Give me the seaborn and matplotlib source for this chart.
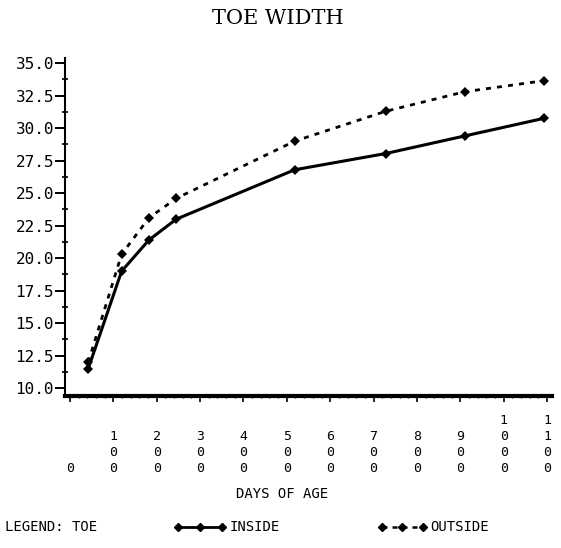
import numpy as np
import pandas as pd
import seaborn as sns
import matplotlib
matplotlib.use("Agg")
import matplotlib.pyplot as plt
from matplotlib.lines import Line2D
from matplotlib.ticker import MultipleLocator, FixedLocator

# ---- data ----
days = [42, 119, 182, 245, 518, 728, 910, 1092]
inside = [11.5, 19.0, 21.4, 23.0, 26.8, 28.05, 29.4, 30.75]
outside = [12.0, 20.3, 23.1, 24.6, 29.0, 31.3, 32.8, 33.65]
x_ticks = [0, 100, 200, 300, 400, 500, 600, 700, 800, 900, 1000, 1100]
y_ticks = [10.0, 12.5, 15.0, 17.5, 20.0, 22.5, 25.0, 27.5, 30.0, 32.5, 35.0]
title = "TOE WIDTH"
x_label = "DAYS OF AGE"

sns.set_style("ticks")
plt.rcParams["font.family"] = ["DejaVu Sans Mono", "DejaVu Sans"]
plt.rcParams["text.color"] = "black"
plt.rcParams["axes.labelcolor"] = "black"
plt.rcParams["xtick.color"] = "black"
plt.rcParams["ytick.color"] = "black"

fig = plt.figure(figsize=(5.61, 5.48), dpi=100)
ax = fig.add_axes([0.1159, 0.2774, 0.8734 - 0.005, 0.6168])

df_in = pd.DataFrame({"days": days, "width": inside})
df_out = pd.DataFrame({"days": days, "width": outside})

sns.lineplot(data=df_in, x="days", y="width", ax=ax, color="black",
             linewidth=2.2, marker="D", markersize=5, markeredgewidth=0)
sns.lineplot(data=df_out, x="days", y="width", ax=ax, color="black",
             linewidth=2.0, linestyle=(0, (1.8, 2.2)), marker="D",
             markersize=5, markeredgewidth=0)

ax.set_xlim(-11.5, 1112)
ax.set_ylim(9.4, 35.4)

sns.despine(ax=ax)
ax.spines["left"].set_linewidth(1.5)
ax.spines["bottom"].set_linewidth(3.0)
ax.spines["left"].set_color("black")
ax.spines["bottom"].set_color("black")

# y ticks
ax.yaxis.set_major_locator(FixedLocator(y_ticks))
ax.yaxis.set_minor_locator(MultipleLocator(1.25))
ax.set_yticklabels([f"{v:.1f}" for v in y_ticks])
ax.tick_params(axis="y", which="major", direction="out", length=7, width=1.4,
               pad=1, labelsize=11.5, colors="black")
ax.tick_params(axis="y", which="minor", direction="inout", length=5, width=1.2,
               colors="black")

# x ticks: stacked digits, bottom aligned
ax.xaxis.set_major_locator(FixedLocator(x_ticks))
ax.xaxis.set_minor_locator(MultipleLocator(20))
ax.set_xticklabels(["\n".join(str(v)) for v in x_ticks])
ax.tick_params(axis="x", which="major", direction="out", length=4, width=1.2,
               pad=53, labelsize=9.5, colors="black")
ax.tick_params(axis="x", which="minor", direction="out", length=1.5, width=1.0,
               colors="black")
for lab in ax.get_xticklabels():
    lab.set_verticalalignment("bottom")
    lab.set_multialignment("center")
    lab.set_linespacing(1.3)

ax.set_xlabel("")
ax.set_ylabel("")

fig.text(0.495, 0.967, title, ha="center", va="center", fontsize=15,
         family="DejaVu Serif", color="black")
fig.text(0.503, 0.098, x_label, ha="center", va="center", fontsize=10)

# legend row
ly = 0.038
fig.text(0.009, ly, "LEGEND: TOE", ha="left", va="center", fontsize=10)
fig.add_artist(Line2D([178 / 561, 222 / 561], [ly, ly], color="black",
                      linewidth=2.0, transform=fig.transFigure))
fig.add_artist(Line2D([178 / 561, 200 / 561, 222 / 561], [ly, ly, ly],
                      color="black", linestyle="none", marker="D",
                      markersize=4, transform=fig.transFigure))
fig.text(230 / 561, ly, "INSIDE", ha="left", va="center", fontsize=10)
fig.add_artist(Line2D([382 / 561, 423 / 561], [ly, ly], color="black",
                      linewidth=1.8, linestyle=(0, (2, 2)),
                      transform=fig.transFigure))
fig.add_artist(Line2D([382 / 561, 402 / 561, 423 / 561], [ly, ly, ly],
                      color="black", linestyle="none", marker="D",
                      markersize=4, transform=fig.transFigure))
fig.text(430 / 561, ly, "OUTSIDE", ha="left", va="center", fontsize=10)

fig.savefig("out.png", dpi=100, facecolor="white")
